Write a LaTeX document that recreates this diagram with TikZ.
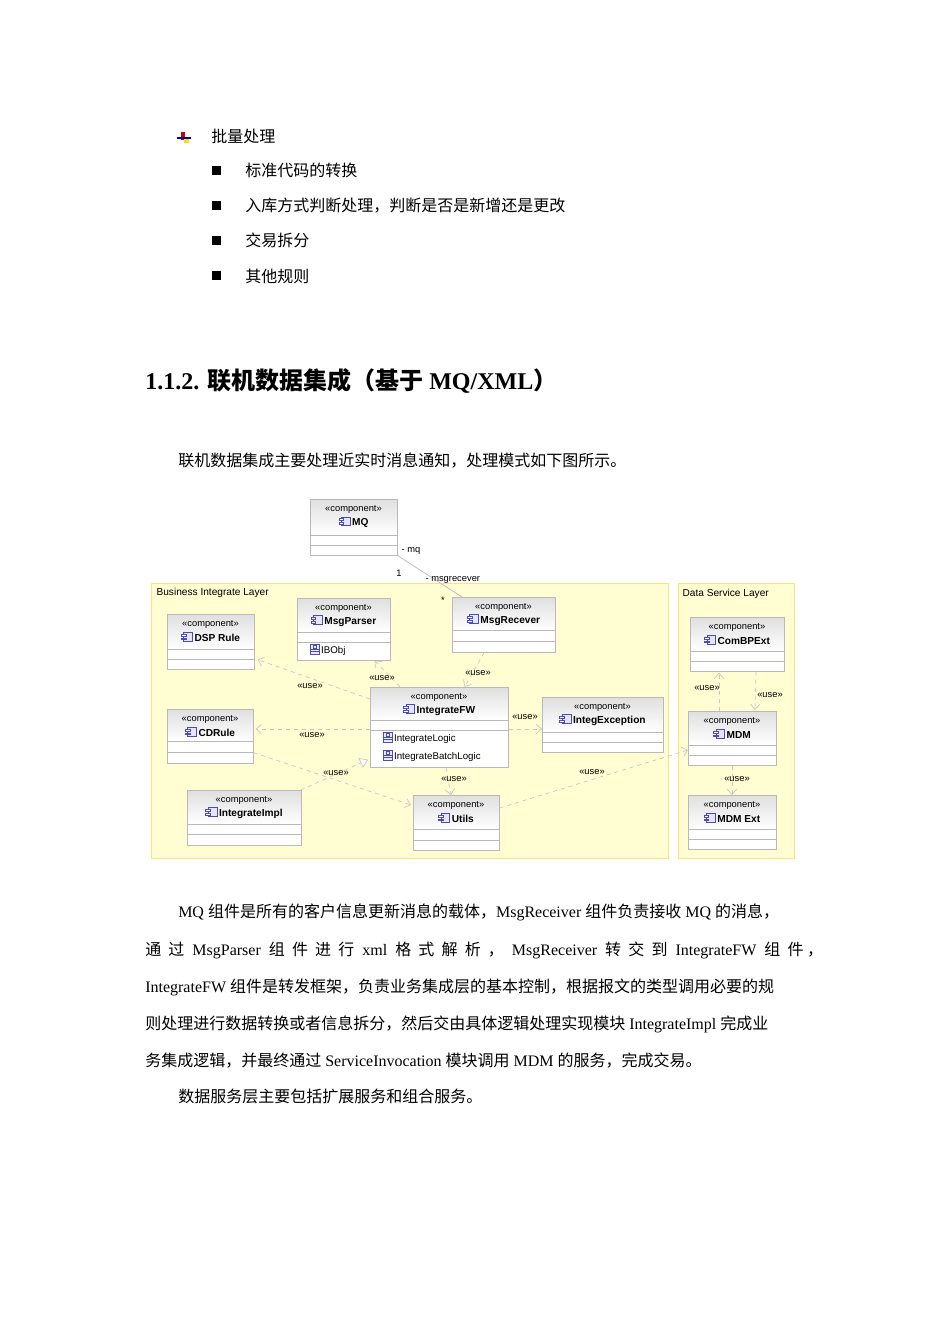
\documentclass[tikz,border=0pt]{standalone}
\usepackage{fontspec}
\setmainfont{Liberation Serif}
\setsansfont{Liberation Sans}
\newfontfamily\cjk{Noto Sans CJK SC}
\usetikzlibrary{arrows.meta,calc}
\newcommand\cicon{\tikz[baseline=0pt,x=1pt,y=1pt]{\draw[blue!60!black!70,fill=blue!10,line width=0.5pt](2,0)rectangle(8.5,6.5);\draw[blue!60!black!70,fill=white,line width=0.4pt](0,1.2)rectangle(3.5,2.4)(0,4)rectangle(3.5,5.2);}}
\newcommand\aicon{\tikz[baseline=0pt,x=1pt,y=1pt]{\draw[blue!60!black!70,fill=blue!8,line width=0.4pt](0,0)rectangle(7,7);\draw[blue!60!black!70,line width=0.3pt](0,2.2)--(7,2.2)(0,3.4)--(7,3.4)(2.2,4.4)rectangle(4.8,6.2);}}
\tikzset{
 compbox/.style={draw=gray!55,line width=0.5pt,inner sep=0pt},
 layer/.style={draw=yellow!60!orange!50,fill=yellow!18,line width=0.5pt,inner sep=0pt},
 dep/.style={draw=gray!45,dashed,line width=0.5pt,-{Straight Barb[length=4pt,width=7pt]}},
 lbl/.style={font=\sffamily\fontsize{7}{8}\selectfont,inner sep=1pt},
 ster/.style={font=\sffamily\fontsize{7}{8}\selectfont,inner sep=0pt},
 ttl/.style={font=\sffamily\bfseries\fontsize{7.6}{8}\selectfont,inner sep=0pt},
 attr/.style={lbl,anchor=west,font=\sffamily\fontsize{7.3}{8}\selectfont},
 body/.style={anchor=base west,inner sep=0pt,font=\fontsize{12}{14}\selectfont},
}
% name x1 y1 x2 y2 yh ysep title
\newcommand\umlc[8]{%
 \fill[white] (#2,#3) rectangle (#4,#5);
 \shade[top color=gray!25,bottom color=white] (#2,#3) rectangle (#4,#6);
 \node[compbox,minimum width={(#4-#2)*0.75pt},minimum height={(#5-#3)*0.75pt},anchor=north west] (#1) at (#2,#3) {};
 \draw[gray!55,line width=0.5pt] (#2,#6)--(#4,#6) (#2,#7)--(#4,#7);
 \node[ster] (#1s) at ({(#2+#4)/2},#3+10) {«component»};
 \node[ttl] (#1t) at ({(#2+#4)/2},#3+23) {\cicon\,#8};
}
\begin{document}
\begin{tikzpicture}[x=0.75pt,y=-0.75pt]
\useasboundingbox (0,0) rectangle (950,1344);
\fill[white] (0,0) rectangle (950,1344);
% top bullet list
\fill[red!80!black] (181,132) rectangle (185,140);
\fill[blue!70!black] (177,137) rectangle (191,139);
\fill[yellow!80!orange] (184,139) rectangle (189,143);
\node[body] (b0) at (211,143) {\cjk 批量处理};
\foreach \yy/\tt [count=\i] in {171/标准代码的转换,206/入库方式判断处理，判断是否是新增还是更改,241/交易拆分,276/其他规则}{
 \fill (212,\yy-5) rectangle (221,\yy+4);
 \node[body] (bi\i) at (245,\yy+6) {\cjk \tt};
}
\node[body,font=\bfseries\fontsize{18}{20}\selectfont] (head) at (145,389) {1.1.2. {\cjk\bfseries 联机数据集成（基于} MQ/XML{\cjk\bfseries ）}};
\node[body] (intro) at (178,466) {\cjk 联机数据集成主要处理近实时消息通知，处理模式如下图所示。};
% layers
\node[layer,minimum width={517*0.75pt},minimum height={275*0.75pt},anchor=north west] (bil) at (151,583) {};
\node[anchor=north west,lbl,font=\sffamily\fontsize{7.6}{8}\selectfont] (bilt) at (155,587) {Business Integrate Layer};
\node[layer,minimum width={116*0.75pt},minimum height={275*0.75pt},anchor=north west] (dsl) at (678,583) {};
\node[anchor=north west,lbl,font=\sffamily\fontsize{7.6}{8}\selectfont] (dslt) at (681,588) {Data Service Layer};
% components
\umlc{mq}{310}{499}{397}{555}{535}{545}{MQ}
\umlc{dsp}{167}{614}{254}{669}{649}{659}{DSP Rule}
\umlc{mp}{297}{598}{390}{660}{632}{642}{MsgParser}
\node[attr] (ibobj) at (308,650) {\aicon\,IBObj};
\umlc{mr}{452}{597}{555}{652}{630}{641}{MsgRecever}
\umlc{fw}{370}{687}{508}{767}{720}{730}{IntegrateFW}
\node[attr] (il) at (381,738) {\aicon\,IntegrateLogic};
\node[attr] (ibl) at (381,756) {\aicon\,IntegrateBatchLogic};
\umlc{ie}{542}{697}{663}{752}{732}{742}{IntegException}
\umlc{cd}{167}{709}{253}{763}{741}{752}{CDRule}
\umlc{ii}{187}{790}{301}{845}{824}{834}{IntegrateImpl}
\umlc{ut}{413}{795}{499}{850}{829}{840}{Utils}
\umlc{cb}{690}{617}{784}{671}{651}{661}{ComBPExt}
\umlc{mdm}{688}{711}{776}{765}{745}{755}{MDM}
\umlc{mx}{688}{795}{776}{849}{829}{839}{MDM Ext}
% association
\draw[gray!50,line width=0.6pt] (mq.south east) -- ($(mr.north west)+(10,0)$);
\node[lbl,anchor=west] (l1) at (400,551) {- mq};
\node[lbl] (l2) at (399,573) {1};
\node[lbl,anchor=west] (l3) at (424,580) {- msgrecever};
\node[lbl] (l4) at (443,600) {*};
% dependencies
\draw[dep] ($(fw.north west)+(0,12)$) -- ($(dsp.south east)+(3,-10)$);
\node[lbl] (u1) at (310,686) {«use»};
\draw[dep] ($(fw.north west)+(30,0)$) -- ($(mp.south east)+(-16,0)$);
\node[lbl] (u2) at (382,678) {«use»};
\draw[dep] ($(mr.south west)+(32,0)$) -- ($(fw.north east)+(-44,0)$);
\node[lbl] (u3) at (478,673) {«use»};
\draw[dep] ($(fw.north west)+(0,42)$) -- ($(cd.north east)+(2,20)$);
\node[lbl] (u4) at (312,735) {«use»};
\draw[dep] ($(fw.north east)+(0,42)$) -- ($(ie.north west)+(0,32)$);
\node[lbl] (u5) at (525,717) {«use»};
\draw[gray!45,dashed,line width=0.5pt,-{Triangle[open,length=6pt,width=8pt,fill=white]}] ($(ii.north east)+(-1,0)$) -- ($(fw.south west)+(-2,-8)$);
\node[lbl] (u6) at (336,773) {«use»};
\draw[dep] ($(cd.south east)+(0,-11)$) -- ($(ut.north west)+(-2,10)$);
\draw[dep] ($(fw.south west)+(76,0)$) -- ($(ut.north west)+(38,0)$);
\node[lbl] (u7) at (454,779) {«use»};
\draw[dep] ($(ut.north east)+(0,13)$) -- ($(mdm.north west)+(0,39)$);
\node[lbl] (u8) at (592,772) {«use»};
\draw[dep] ($(mdm.north west)+(31,0)$) -- ($(cb.south west)+(29,1)$);
\node[lbl] (u9) at (707,688) {«use»};
\draw[dep] ($(cb.south west)+(66,0)$) -- ($(mdm.north west)+(67,-1)$);
\node[lbl] (u10) at (770,695) {«use»};
\draw[dep] ($(mdm.south west)+(44,0)$) -- ($(mx.north west)+(44,0)$);
\node[lbl] (u11) at (737,779) {«use»};
% paragraph
\node[body] (p1) at (178,917) {MQ {\cjk 组件是所有的客户信息更新消息的载体，}MsgReceiver {\cjk 组件负责接收} MQ {\cjk 的消息，}};
\node[body] (p2) at (145,955) {{\cjk 通\ \ 过}\ \ MsgParser\ \ {\cjk 组\ \ 件\ \ 进\ \ 行}\ \ xml\ \ {\cjk 格\ \ 式\ \ 解\ \ 析\ \ ，}\ \ MsgReceiver\ \ {\cjk 转\ \ 交\ \ 到}\ \ IntegrateFW\ \ {\cjk 组\ \ 件\ ，}};
\node[body] (p3) at (145,992) {IntegrateFW {\cjk 组件是转发框架，负责业务集成层的基本控制，根据报文的类型调用必要的规}};
\node[body] (p4) at (145,1029) {{\cjk 则处理进行数据转换或者信息拆分，然后交由具体逻辑处理实现模块} IntegrateImpl {\cjk 完成业}};
\node[body] (p5) at (145,1066) {{\cjk 务集成逻辑，并最终通过} ServiceInvocation {\cjk 模块调用} MDM {\cjk 的服务，完成交易。}};
\node[body] (p6) at (178,1102) {\cjk 数据服务层主要包括扩展服务和组合服务。};
\end{tikzpicture}
\end{document}
